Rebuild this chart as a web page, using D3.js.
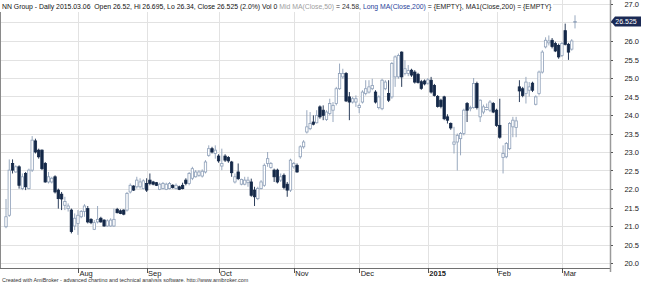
<!DOCTYPE html>
<html>
<head>
<meta charset="utf-8">
<script src="https://cdn.jsdelivr.net/npm/d3@7"></script>
<style>
  html, body { margin: 0; padding: 0; background: #fff; }
  svg { display: block; font-family: "Liberation Sans", Arial, sans-serif; }
  .title-part { white-space: pre; }
</style>
</head>
<body>
<svg id="chart"></svg>
<script>
'use strict';

// daily OHLC, 2014-07-02 .. 2015-03-06
const opens = [
  20.98, 21.29, 22.69, 22.46, 22.60, 22.01, 22.42, 22.01, 22.51, 23.30,
  23.05, 23.05, 22.69, 22.19, 22.19, 22.33, 21.97, 21.86, 21.56, 21.47,
  21.43, 21.00, 21.07, 21.25, 21.39, 21.47, 21.18, 20.91, 21.11, 21.21,
  21.16, 21.00, 21.00, 21.00, 21.45, 21.41, 21.43, 21.43, 21.92, 22.08,
  22.06, 22.06, 22.01, 22.15, 22.24, 22.19, 22.17, 21.99, 22.01, 21.99,
  22.01, 22.10, 22.01, 22.06, 22.10, 22.24, 22.15, 22.29, 22.33, 22.37,
  22.35, 22.46, 22.91, 23.09, 22.96, 22.89, 22.62, 22.89, 22.85, 22.73,
  22.19, 22.46, 22.13, 22.13, 22.17, 22.19, 21.97, 21.74, 22.01, 22.10,
  22.69, 22.58, 22.51, 22.51, 22.24, 22.37, 22.13, 21.97, 22.60, 22.64,
  22.87, 23.14, 23.54, 23.63, 23.81, 23.79, 24.22, 24.13, 23.88, 24.04,
  24.13, 24.31, 24.71, 25.03, 25.12, 24.49, 24.35, 24.35, 24.20, 24.35,
  24.58, 24.62, 24.71, 24.62, 24.20, 24.17, 24.71, 24.58, 24.49, 25.03,
  25.03, 25.70, 25.12, 25.12, 25.21, 25.16, 25.10, 24.90, 24.92, 24.86,
  24.94, 24.80, 24.50, 24.40, 24.49, 23.95, 23.77, 23.21, 23.27, 23.36,
  23.50, 24.31, 24.17, 24.20, 24.85, 23.95, 24.08, 24.15, 24.13, 24.31,
  24.13, 23.72, 22.85, 22.87, 23.09, 23.68, 23.66, 24.76, 24.71, 24.58,
  24.67, 24.86, 24.29, 24.58, 25.16, 25.84, 25.95, 26.02, 25.93, 25.88,
  25.61, 26.28, 25.91, 25.78, 26.52
];
const highs = [
  21.73, 22.80, 22.80, 22.64, 22.64, 22.42, 22.46, 22.55, 23.43, 23.36,
  23.09, 23.07, 22.73, 22.46, 22.33, 22.37, 22.01, 21.92, 21.79, 21.61,
  21.47, 21.34, 21.43, 21.43, 21.59, 21.54, 21.21, 21.16, 21.54, 21.25,
  21.18, 21.18, 21.21, 21.47, 21.49, 21.45, 21.45, 21.92, 22.15, 22.10,
  22.33, 22.29, 22.26, 22.29, 22.42, 22.22, 22.19, 22.17, 22.19, 22.17,
  22.19, 22.13, 22.15, 22.09, 22.17, 22.29, 22.46, 22.60, 22.51, 22.51,
  22.53, 22.78, 23.18, 23.14, 23.18, 22.94, 23.09, 22.94, 22.89, 22.76,
  22.42, 22.69, 22.28, 22.33, 22.33, 22.28, 22.06, 22.06, 22.24, 22.69,
  23.00, 22.73, 22.55, 22.55, 22.42, 22.42, 22.19, 22.82, 22.73, 22.69,
  23.18, 23.32, 24.13, 24.08, 23.99, 24.13, 24.26, 24.26, 24.13, 24.44,
  24.35, 24.76, 25.39, 25.25, 25.16, 24.62, 24.49, 24.53, 24.31, 24.67,
  24.94, 24.94, 24.98, 24.67, 24.53, 24.98, 24.94, 24.94, 25.43, 25.61,
  25.66, 25.72, 25.48, 25.35, 25.25, 25.21, 25.14, 24.95, 24.96, 25.00,
  25.03, 24.84, 24.54, 24.44, 24.52, 24.02, 23.80, 23.68, 23.50, 23.54,
  24.17, 24.35, 24.25, 25.00, 24.90, 24.42, 24.28, 24.31, 24.40, 24.35,
  24.17, 24.44, 23.18, 23.27, 23.81, 23.95, 23.95, 24.94, 24.76, 25.03,
  24.89, 24.90, 24.53, 25.20, 25.75, 26.10, 26.15, 26.08, 25.98, 25.93,
  25.97, 26.47, 25.95, 26.05, 26.695
];
const lows = [
  20.94, 21.25, 22.42, 22.44, 22.01, 21.97, 21.97, 21.99, 22.46, 22.96,
  22.82, 22.51, 22.17, 22.15, 22.15, 21.88, 21.47, 21.43, 21.43, 21.39,
  20.80, 20.89, 20.76, 21.21, 21.25, 21.07, 21.05, 20.89, 21.07, 21.09,
  20.98, 20.98, 20.98, 20.98, 21.34, 21.32, 21.29, 21.39, 21.88, 21.95,
  22.01, 22.01, 21.99, 21.92, 22.10, 22.10, 22.08, 21.97, 21.99, 21.97,
  21.99, 22.01, 21.99, 21.97, 21.99, 22.10, 22.10, 22.24, 22.31, 22.33,
  22.31, 22.42, 22.87, 22.96, 22.82, 22.71, 22.51, 22.73, 22.71, 22.33,
  22.15, 22.24, 22.10, 22.10, 22.06, 21.79, 21.54, 21.70, 21.99, 22.06,
  22.60, 22.55, 22.19, 22.15, 22.19, 21.99, 21.79, 21.92, 22.55, 22.44,
  22.82, 23.09, 23.50, 23.59, 23.72, 23.77, 23.90, 23.86, 23.84, 23.99,
  23.81, 24.26, 24.68, 24.98, 24.35, 23.86, 24.31, 24.22, 24.05, 24.31,
  24.53, 24.58, 24.67, 24.31, 24.15, 24.13, 24.67, 24.35, 24.44, 24.76,
  24.98, 24.76, 25.07, 25.05, 25.03, 24.85, 24.85, 24.68, 24.80, 24.82,
  24.58, 24.50, 24.20, 24.18, 23.86, 23.77, 23.60, 22.96, 22.50, 22.91,
  23.45, 23.81, 24.10, 24.17, 24.15, 23.81, 24.02, 24.12, 24.08, 24.05,
  23.68, 23.36, 22.42, 22.83, 23.05, 23.40, 23.40, 24.35, 24.48, 24.31,
  24.50, 24.62, 24.26, 24.53, 25.12, 25.80, 25.88, 25.80, 25.70, 25.52,
  25.57, 25.88, 25.49, 25.74, 26.34
];
const closes = [
  21.25, 22.51, 22.51, 22.60, 22.10, 22.33, 22.06, 22.51, 23.32, 23.00,
  22.87, 22.55, 22.19, 22.33, 22.29, 21.92, 21.74, 21.73, 21.66, 21.54,
  20.85, 21.21, 21.29, 21.39, 21.54, 21.11, 21.09, 21.09, 21.18, 21.11,
  21.00, 21.14, 21.16, 21.18, 21.36, 21.34, 21.32, 21.88, 22.10, 21.97,
  22.24, 22.19, 22.22, 21.97, 22.15, 22.13, 22.10, 22.13, 22.15, 22.13,
  22.15, 22.04, 22.10, 21.99, 22.01, 22.15, 22.42, 22.55, 22.46, 22.46,
  22.48, 22.73, 23.09, 23.00, 23.05, 22.76, 22.69, 22.78, 22.76, 22.44,
  22.33, 22.28, 22.26, 22.24, 22.24, 21.83, 21.79, 22.01, 22.19, 22.64,
  22.82, 22.69, 22.33, 22.19, 22.33, 22.04, 21.97, 22.78, 22.69, 22.46,
  23.14, 23.27, 23.68, 23.77, 23.75, 23.99, 23.95, 23.99, 24.08, 24.31,
  24.26, 24.71, 25.12, 25.12, 24.38, 24.35, 24.44, 24.44, 24.26, 24.62,
  24.71, 24.76, 24.80, 24.35, 24.49, 24.94, 24.89, 24.40, 25.39, 25.57,
  25.61, 25.03, 25.25, 25.20, 25.08, 24.89, 24.88, 24.72, 24.84, 24.95,
  24.62, 24.53, 24.23, 24.23, 23.90, 23.86, 23.65, 23.27, 23.45, 23.50,
  24.13, 24.13, 24.20, 24.85, 24.20, 24.40, 24.22, 24.20, 24.35, 24.08,
  23.72, 23.40, 22.96, 23.23, 23.77, 23.86, 23.84, 24.65, 24.53, 24.89,
  24.76, 24.67, 24.49, 25.16, 25.70, 26.02, 26.00, 25.85, 25.73, 25.57,
  25.93, 25.91, 25.70, 26.00, 26.525
];

const holidays = ['2014-12-25', '2014-12-26', '2015-01-01'];
const monthLabels = ['Aug', 'Sep', 'Oct', 'Nov', 'Dec', '2015', 'Feb', 'Mar'];
const yTicks = [20.0, 20.5, 21.0, 21.5, 22.0, 22.5, 23.0, 23.5, 24.0, 24.5, 25.0, 25.5, 26.0, 26.5, 27.0];
const lastLabel = '26.525';

const titleParts = [
  { t: 'NN Group - Daily 2015.03.06  Open 26.52, Hi 26.695, Lo 26.34, Close 26.525 (2.0%) Vol 0 ', c: '#111' },
  { t: 'Mid MA(Close,50)', c: '#a0a0a0' },
  { t: ' = 24.58, ', c: '#333' },
  { t: 'Long MA(Close,200)', c: '#2a3f9a' },
  { t: ' = {EMPTY}, MA1(Close,200) = {EMPTY}', c: '#222' }
];

// trading days
const fmt = d3.timeFormat('%Y-%m-%d');
const dates = d3.timeDays(new Date(2014, 6, 2), new Date(2015, 2, 7))
  .filter(d => d.getDay() !== 0 && d.getDay() !== 6 && !holidays.includes(fmt(d)));

const data = dates.map((d, i) => ({
  date: d, i: i, o: opens[i], h: highs[i], l: lows[i], c: closes[i]
}));

const width = 645, height = 282;
const plotRight = 610, axisY = 268;

const svg = d3.select('#chart').attr('width', width).attr('height', height);

const x = d3.scaleLinear().domain([0, data.length - 1]).range([6, 575]);
const y = d3.scaleLinear().domain([20, 27]).range([263, 4]);

// month starts
const monthStarts = data.filter((d, i) => i > 0 && d.date.getMonth() !== data[i - 1].date.getMonth());

// grid
svg.append('g').attr('class', 'hgrid')
  .selectAll('line').data(yTicks).join('line')
    .attr('x1', 0).attr('x2', plotRight)
    .attr('y1', d => Math.round(y(d)) + 0.5).attr('y2', d => Math.round(y(d)) + 0.5)
    .attr('stroke', '#e2e2e2');

svg.append('g').attr('class', 'vgrid')
  .selectAll('line').data(monthStarts).join('line')
    .attr('x1', d => Math.round(x(d.i)) + 0.5).attr('x2', d => Math.round(x(d.i)) + 0.5)
    .attr('y1', 0).attr('y2', axisY)
    .attr('stroke', '#e2e2e2');

// candles
const upStroke = '#8d9fb8', downFill = '#142848';
const candles = svg.append('g').attr('class', 'candles')
  .selectAll('g').data(data).join('g');

candles.append('line')
  .attr('x1', d => x(d.i)).attr('x2', d => x(d.i))
  .attr('y1', d => y(d.h)).attr('y2', d => y(d.l))
  .attr('stroke', d => d.c >= d.o ? upStroke : downFill)
  .attr('stroke-width', 0.9);

candles.append('rect')
  .attr('x', d => x(d.i) - 1.2)
  .attr('width', 2.4)
  .attr('y', d => y(Math.max(d.o, d.c)))
  .attr('height', d => Math.max(0.8, Math.abs(y(d.o) - y(d.c))))
  .attr('fill', d => d.c >= d.o ? '#fff' : downFill)
  .attr('stroke', d => d.c >= d.o ? upStroke : downFill)
  .attr('stroke-width', 0.8);

// frame
svg.append('line').attr('x1', 0.5).attr('x2', 0.5).attr('y1', 0).attr('y2', axisY)
  .attr('stroke', '#8a8a8a');
svg.append('line').attr('x1', 0).attr('x2', plotRight).attr('y1', axisY + 0.5).attr('y2', axisY + 0.5)
  .attr('stroke', '#707070');
svg.append('line').attr('x1', plotRight + 0.5).attr('x2', plotRight + 0.5).attr('y1', 0).attr('y2', axisY + 4)
  .attr('stroke', '#9a9a9a').attr('stroke-width', 1.5);

// last value marker position
const last = data[data.length - 1];
const ly = y(last.c);

// right axis (labels hidden under the marker are skipped)
const yAxis = svg.append('g').attr('class', 'y-axis');
yAxis.selectAll('line').data(yTicks).join('line')
  .attr('x1', plotRight + 1).attr('x2', plotRight + 3)
  .attr('y1', d => Math.round(y(d)) + 0.5).attr('y2', d => Math.round(y(d)) + 0.5)
  .attr('stroke', '#555');
yAxis.selectAll('text').data(yTicks.filter(d => Math.abs(y(d) - ly) > 8)).join('text')
  .attr('x', 639).attr('y', d => y(d) + 3)
  .attr('text-anchor', 'end')
  .attr('font-size', 7.5).attr('fill', '#222')
  .text(d => d.toFixed(1));

svg.append('path')
  .attr('d', `M${plotRight + 1},${ly} L${plotRight + 5},${ly - 5} L641,${ly - 5} L641,${ly + 5} L${plotRight + 5},${ly + 5} Z`)
  .attr('fill', '#1b2a55');
svg.append('text')
  .attr('x', 626).attr('y', ly + 2.6)
  .attr('text-anchor', 'middle')
  .attr('font-size', 7).attr('fill', '#fff')
  .text(lastLabel);

// bottom axis
const xAxis = svg.append('g').attr('class', 'x-axis');
xAxis.selectAll('line').data(monthStarts).join('line')
  .attr('x1', d => Math.round(x(d.i)) + 0.5).attr('x2', d => Math.round(x(d.i)) + 0.5)
  .attr('y1', axisY).attr('y2', axisY + 5)
  .attr('stroke', '#555');
xAxis.selectAll('text').data(monthStarts).join('text')
  .attr('x', d => x(d.i) + 1.5).attr('y', axisY + 7.5)
  .attr('font-size', 7.5).attr('fill', '#222')
  .attr('font-weight', (d, i) => monthLabels[i] === '2015' ? 'bold' : 'normal')
  .text((d, i) => monthLabels[i]);

// title: parts laid out one after another, sized to end near x = 552
svg.append('rect').attr('x', 0).attr('y', 0).attr('width', 553).attr('height', 12).attr('fill', '#fff');
const titleG = svg.append('g').attr('class', 'title');
const parts = titleG.selectAll('text').data(titleParts).join('text')
  .attr('class', 'title-part')
  .attr('y', 9)
  .attr('font-size', 8)
  .attr('fill', d => d.c)
  .text(d => d.t);
const total = d3.sum(parts.nodes(), n => n.getComputedTextLength());
const fs = 8 * 550 / total;
parts.attr('font-size', fs);
let cursor = 2;
parts.each(function () {
  d3.select(this).attr('x', cursor);
  cursor += this.getComputedTextLength();
});

svg.append('text')
  .attr('x', 2).attr('y', 281.5)
  .attr('font-size', 5.4).attr('fill', '#333')
  .text('Created with AmiBroker - advanced charting and technical analysis software. http://www.amibroker.com');
</script>
</body>
</html>
